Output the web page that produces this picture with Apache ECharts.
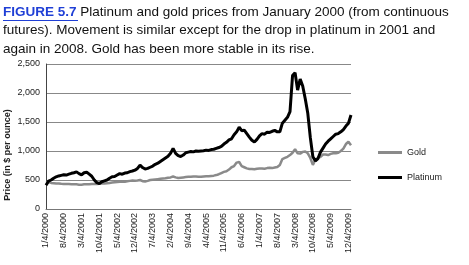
<!DOCTYPE html>
<html style="height: 100%">
   <head>
       <meta charset="utf-8">
   </head>
   <body style="height: 100%; margin: 0; background: #fff">
       <div id="container" style="height: 265px; width: 469px"></div>
       <script type="text/javascript" src="https://cdn.jsdelivr.net/npm/echarts/dist/echarts.min.js"></script>
       <script type="text/javascript">
// monthly, Jan 2000 .. Jan 2010
var platinum = [
    410, 480, 500, 530, 555, 570, 580, 590, 585, 600, 615, 625,
    640, 610, 590, 625, 635, 600, 565, 500, 455, 440, 470, 485,
    500, 530, 555, 560, 585, 610, 600, 620, 625, 645, 655, 670,
    700, 755, 715, 690, 700, 720, 740, 770, 790, 820, 850, 880,
    910, 960, 1045, 960, 920, 905, 930, 970, 980, 990, 985, 1000,
    995, 1000, 1005, 1015, 1010, 1025, 1030, 1045, 1060, 1080, 1120, 1150,
    1190, 1210, 1280, 1330, 1410, 1350, 1360, 1300, 1240, 1185, 1155, 1200,
    1260, 1300, 1290, 1325, 1320, 1340, 1355, 1330, 1330, 1480, 1530, 1580,
    1680, 2300, 2350, 2050, 2240, 2120, 1900, 1650, 1230, 900, 830, 870,
    980, 1050, 1120, 1170, 1210, 1250, 1290, 1300, 1330, 1370, 1430, 1480,
    1620
];
var gold = [
    460, 465, 450, 445, 440, 440, 435, 432, 430, 430, 428, 425,
    425, 420, 420, 425, 425, 428, 430, 432, 430, 435, 438, 440,
    445, 450, 455, 460, 465, 470, 475, 470, 478, 485, 490, 488,
    492, 500, 480, 475, 485, 500, 505, 510, 515, 520, 525, 530,
    540, 545, 560, 545, 535, 540, 545, 550, 555, 555, 560, 560,
    555, 555, 560, 565, 565, 570, 575, 585, 600, 620, 640, 650,
    680, 720, 740, 800, 810, 740, 720, 700, 690, 690, 685, 695,
    700, 700, 695, 705, 710, 705, 715, 725, 760, 860, 880, 900,
    930, 970, 1030, 960, 955, 985, 990, 960, 880, 760, 850, 880,
    900, 940, 940, 930, 950, 960, 960, 970, 1000, 1040, 1120, 1160,
    1100
];
var months = [];
for (var i = 0; i < platinum.length; i++) {
    months.push((i % 12 + 1) + '/4/' + (2000 + Math.floor(i / 12)));
}

var dom = document.getElementById("container");
var myChart = echarts.init(dom);
var font = 'Liberation Sans, Arial, sans-serif';
var option = {
    animation: false,
    textStyle: { fontFamily: font },
    title: {
        left: 3,
        top: 3,
        padding: 0,
        text: '{a|FIGURE 5.7} Platinum and gold prices from January 2000 (from continuous\nfutures). Movement is similar except for the drop in platinum in 2001 and\nagain in 2008. Gold has been more stable in its rise.',
        textStyle: {
            fontFamily: font,
            fontSize: 13.5,
            fontWeight: 'normal',
            color: '#111',
            lineHeight: 18.5,
            rich: {
                a: { fontFamily: font, fontSize: 13.5, fontWeight: 'bold', color: '#1f3fd6', lineHeight: 18.5 }
            }
        }
    },
    graphic: [
        { type: 'line', shape: { x1: 3, y1: 20.5, x2: 78, y2: 20.5 }, style: { stroke: '#1f3fd6', lineWidth: 1 } },
        {
            type: 'text', x: 8, y: 155, rotation: Math.PI / 2,
            style: { text: 'Price (in $ per ounce)', font: 'bold 9px ' + font, fill: '#222', align: 'center', verticalAlign: 'middle' }
        }
    ],
    legend: {
        orient: 'vertical',
        left: 373,
        top: 143,
        itemWidth: 24,
        itemHeight: 3,
        itemGap: 16,
        icon: 'rect',
        textStyle: { fontSize: 9, color: '#222', fontFamily: font },
        data: ['Gold', 'Platinum']
    },
    grid: { left: 46, right: 118, top: 64, bottom: 56 },
    xAxis: {
        type: 'category',
        boundaryGap: false,
        data: months,
        axisLine: { lineStyle: { color: '#777' } },
        axisTick: { show: false },
        axisLabel: { interval: 6, rotate: 90, fontSize: 9, color: '#222', margin: 4, fontFamily: font }
    },
    yAxis: {
        type: 'value',
        min: 0,
        max: 2500,
        interval: 500,
        axisLine: { show: true, lineStyle: { color: '#444' } },
        axisTick: { show: false },
        axisLabel: {
            fontSize: 9, color: '#222', margin: 6, fontFamily: font,
            formatter: function (v) { return v.toLocaleString('en-US'); }
        },
        splitLine: { lineStyle: { color: '#888', width: 1 } }
    },
    series: [
        {
            name: 'Gold', type: 'line', data: gold, symbol: 'none',
            itemStyle: { color: '#8a8a8a' },
            lineStyle: { color: '#8a8a8a', width: 2.5 }, z: 2
        },
        {
            name: 'Platinum', type: 'line', data: platinum, symbol: 'none',
            itemStyle: { color: '#000' },
            lineStyle: { color: '#000', width: 3 }, z: 3
        }
    ]
};
myChart.setOption(option, true);
       </script>
   </body>
</html>
